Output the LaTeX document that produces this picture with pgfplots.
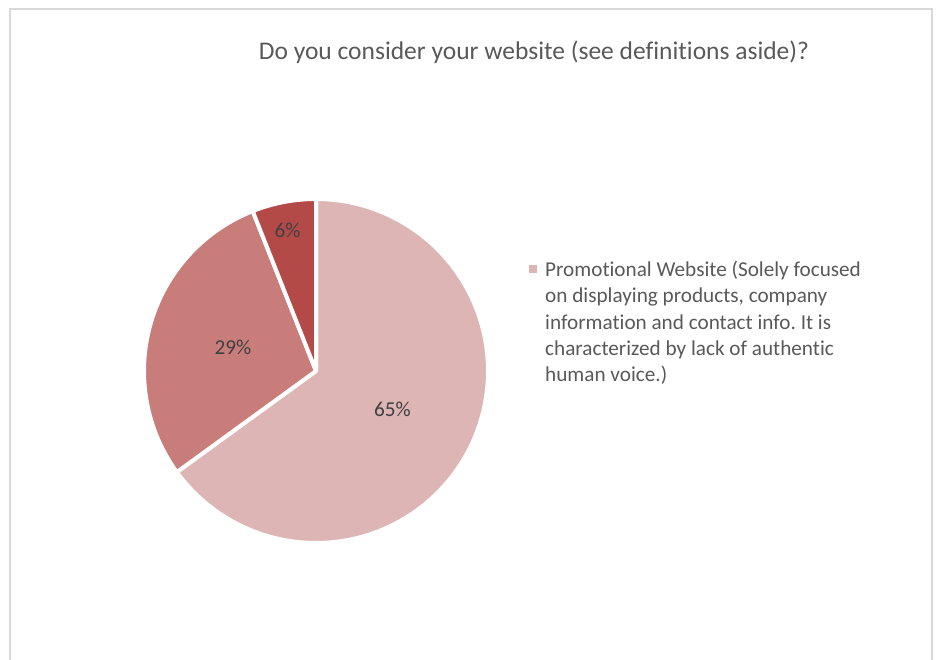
\documentclass[border=0pt]{standalone}
\usepackage{pgfplots}
\pgfplotsset{compat=1.18}
\usepackage{fontspec}
\setmainfont{Carlito}[RawFeature={-liga;-clig;-dlig}]
\frenchspacing

\definecolor{pieA}{HTML}{DEB5B5}
\definecolor{pieB}{HTML}{C97D7A}
\definecolor{pieC}{HTML}{B34A48}
\definecolor{txt}{HTML}{595959}
\definecolor{lbl}{HTML}{404040}
\definecolor{frame}{HTML}{D9D9D9}

% shares of the three answers, in per cent
\def\vA{65}
\def\vB{29}
\def\vC{6}

% slices run clockwise from twelve o'clock
\pgfmathsetmacro\aA{90}
\pgfmathsetmacro\aB{\aA-3.6*\vA}
\pgfmathsetmacro\aC{\aB-3.6*\vB}
\pgfmathsetmacro\aD{\aC-3.6*\vC}

\def\cx{316}
\def\cy{289}
\def\rr{172}

\begin{document}
\begin{tikzpicture}
\useasboundingbox (0,0) rectangle (936pt,660pt);
\begin{axis}[
  at={(0,0)}, anchor=south west,
  x=1pt, y=1pt,
  xmin=0, xmax=936, ymin=0, ymax=660,
  hide axis, clip=false,
]
% chart frame
\draw[frame, line width=1.5pt] (10,-5) -- (10,651) -- (932,651) -- (932,-5);

% title
\node[anchor=base, text=txt, font=\fontsize{25.5}{30}\selectfont] at (534,600)
  {Do you consider your website (see definitions aside)?};

% pie slices
\addplot[fill=pieA, draw=white, line width=4pt, line join=round,
  domain=\aB:\aA, samples=150, variable=\t]
  ({\cx+\rr*cos(\t)},{\cy+\rr*sin(\t)}) -- (\cx,\cy) -- cycle;
\addplot[fill=pieB, draw=white, line width=4pt, line join=round,
  domain=\aC:\aB, samples=80, variable=\t]
  ({\cx+\rr*cos(\t)},{\cy+\rr*sin(\t)}) -- (\cx,\cy) -- cycle;
\addplot[fill=pieC, draw=white, line width=4pt, line join=round,
  domain=\aD:\aC, samples=30, variable=\t]
  ({\cx+\rr*cos(\t)},{\cy+\rr*sin(\t)}) -- (\cx,\cy) -- cycle;

% data labels
\begin{scope}[every node/.style={anchor=base, text=lbl, font=\fontsize{21.2}{25}\selectfont}]
\node at (392.5,243) {\vA\%};
\node at (233,305) {\vB\%};
\node at (287.5,422) {\vC\%};
\end{scope}

% legend
\addplot[only marks, mark=square*, mark size=3.5pt, mark options={fill=pieA, draw=pieA}]
  coordinates {(532.5,391)};
\begin{scope}[every node/.style={anchor=base west, inner sep=0pt, text=txt, font=\fontsize{21.2}{25}\selectfont}]
\node at (545,383) {Promotional Website (Solely focused};
\node at (545,357) {on displaying products, company};
\node at (545,330.5) {information and contact info. It is};
\node at (545,304) {characterized by lack of authentic};
\node at (545,278) {human voice.)};
\end{scope}
\end{axis}
\end{tikzpicture}
\end{document}
